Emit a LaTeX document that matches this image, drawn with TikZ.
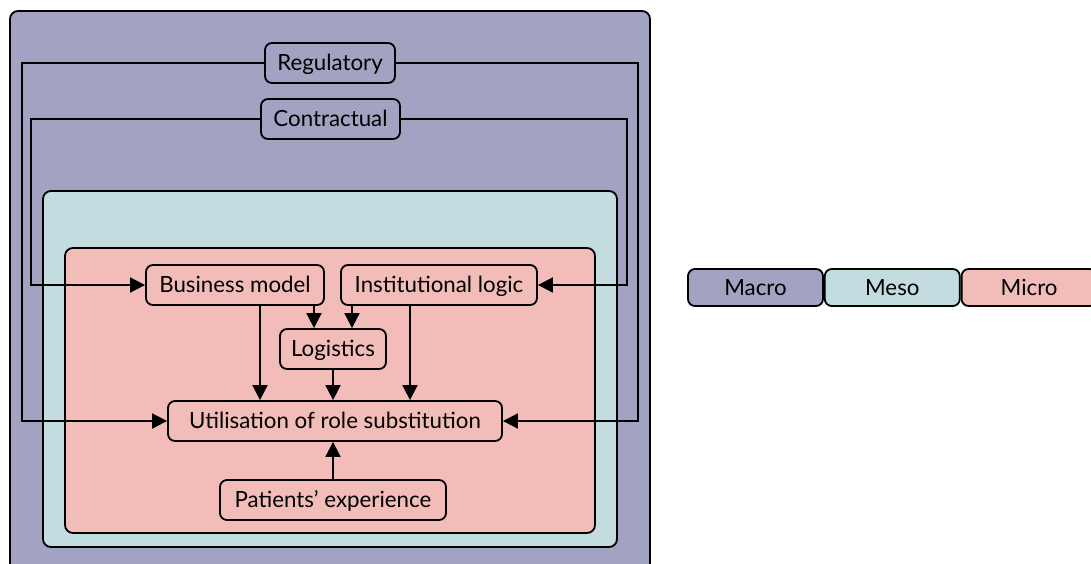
\documentclass[tikz,border=0pt]{standalone}
\usepackage{fontspec}
\setmainfont{Lato}
\usetikzlibrary{arrows.meta}
\definecolor{macro}{HTML}{A2A3C2}
\definecolor{meso}{HTML}{C2DCDF}
\definecolor{micro}{HTML}{F2BDB8}
\begin{document}
\begin{tikzpicture}[x=1pt,y=-1pt,line width=1.8pt,
  box/.style={draw,rounded corners=7pt,minimum height=40pt,inner sep=0pt,
    font=\fontsize{22.3}{26}\selectfont,text height=19pt,text depth=4pt},
  legend/.style={box,minimum height=37pt,minimum width=135pt},
  conn/.style={-{Triangle[length=15pt,width=15pt]}},
  level/.style={draw=black,rounded corners=8pt}]
\useasboundingbox (0,0) rectangle (1091,563);

% nested levels
\filldraw[level,fill=macro] (10,11) rectangle (650,590);
\filldraw[level,fill=meso] (43,191) rectangle (617,547);
\filldraw[level,fill=micro] (65,248) rectangle (595,533);

% factors
\node[box,fill=macro,minimum width=130pt] (reg) at (330,63) {Regulatory};
\node[box,fill=macro,minimum width=139pt] (con) at (330.5,119) {Contractual};
\node[box,fill=micro,minimum width=178pt] (bm) at (235,285) {Business model};
\node[box,fill=micro,minimum width=196pt] (inst) at (439,285) {Institutional logic};
\node[box,fill=micro,minimum width=106pt] (log) at (333,349) {Logistics};
\node[box,fill=micro,minimum width=334pt] (util) at (335,421) {Utilisation of role substitution};
\node[box,fill=micro,minimum width=226pt] (pat) at (333,500) {Patients’ experience};

% bends of the outer connectors
\coordinate (regL) at (22,63);
\coordinate (regR) at (638,63);
\coordinate (conL) at (31,119);
\coordinate (conR) at (627,119);

\draw[conn] (reg.west) -- (regL) |- (util.west);
\draw[conn] (reg.east) -- (regR) |- (util.east);
\draw[conn] (con.west) -- (conL) |- (bm.west);
\draw[conn] (con.east) -- (conR) |- (inst.east);

% inner connectors
\draw[conn] ([xshift=79pt]bm.south) -- ([xshift=79pt]bm.south |- log.north);
\draw[conn] ([xshift=-87pt]inst.south) -- ([xshift=-87pt]inst.south |- log.north);
\draw[conn] ([xshift=25pt]bm.south) -- ([xshift=25pt]bm.south |- util.north);
\draw[conn] ([xshift=-29pt]inst.south) -- ([xshift=-29pt]inst.south |- util.north);
\draw[conn] (log.south) -- (log.south |- util.north);
\draw[conn] (pat.north) -- (pat.north |- util.south);

% legend
\node[legend,fill=macro] (lmacro) at (755.5,287.5) {Macro};
\node[legend,fill=meso,anchor=west] (lmeso) at (lmacro.east) {Meso};
\node[legend,fill=micro,anchor=west] (lmicro) at (lmeso.east) {Micro};
\end{tikzpicture}
\end{document}
